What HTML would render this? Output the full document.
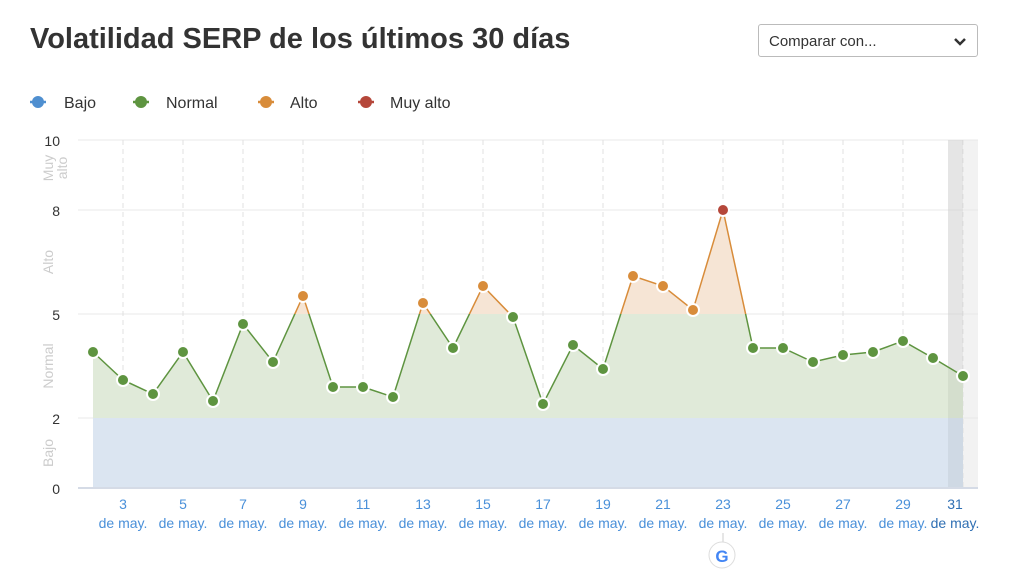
<!DOCTYPE html>
<html><head><meta charset="utf-8"><style>
body{margin:0;width:1010px;height:576px;background:#fff;font-family:"Liberation Sans",sans-serif;overflow:hidden;position:relative}
h1{position:absolute;left:30px;top:23px;margin:0;font-size:29px;font-weight:bold;color:#333}
.sel{position:absolute;left:758px;top:24px;width:220px;height:33px;border:1px solid #bbb;border-radius:3px;box-sizing:border-box;font-size:15px;color:#333;padding:8px 10px}
</style></head><body>
<h1>Volatilidad SERP de los últimos 30 días</h1>
<div class="sel">Comparar con...<svg style="position:absolute;right:10px;top:12px" width="14" height="10"><path d="M2 2 L7 7 L12 2" stroke="#333" stroke-width="2.5" fill="none"/></svg></div>
<svg width="1010" height="576" style="position:absolute;left:0;top:0" font-family="Liberation Sans, sans-serif">
<defs>
<clipPath id="lo"><rect x="0" y="314" width="1010" height="300"/></clipPath>
<clipPath id="hi"><rect x="0" y="0" width="1010" height="314"/></clipPath>
</defs>
<g font-size="16" fill="#333">
<line x1="30" y1="102" x2="46" y2="102" stroke="#4f8fd0" stroke-width="2.5"/><circle cx="38" cy="102" r="6" fill="#4f8fd0"/><text x="64" y="108">Bajo</text>
<line x1="133" y1="102" x2="149" y2="102" stroke="#5e9440" stroke-width="2.5"/><circle cx="141" cy="102" r="6" fill="#5e9440"/><text x="166" y="108">Normal</text>
<line x1="258" y1="102" x2="274" y2="102" stroke="#d88c3a" stroke-width="2.5"/><circle cx="266" cy="102" r="6" fill="#d88c3a"/><text x="290" y="108">Alto</text>
<line x1="358" y1="102" x2="374" y2="102" stroke="#b5473a" stroke-width="2.5"/><circle cx="366" cy="102" r="6" fill="#b5473a"/><text x="390" y="108">Muy alto</text>
</g>
<rect x="948" y="140" width="30" height="348" fill="#f2f2f2"/>
<g stroke="#e8e8e8" stroke-width="1">
<line x1="78" y1="140" x2="978" y2="140"/><line x1="78" y1="210" x2="978" y2="210"/><line x1="78" y1="314" x2="978" y2="314"/><line x1="78" y1="418" x2="978" y2="418"/>
</g>
<g stroke="#e0e0e0" stroke-dasharray="5,4">
<line x1="123" y1="140" x2="123" y2="488"/><line x1="183" y1="140" x2="183" y2="488"/><line x1="243" y1="140" x2="243" y2="488"/><line x1="303" y1="140" x2="303" y2="488"/><line x1="363" y1="140" x2="363" y2="488"/><line x1="423" y1="140" x2="423" y2="488"/><line x1="483" y1="140" x2="483" y2="488"/><line x1="543" y1="140" x2="543" y2="488"/><line x1="603" y1="140" x2="603" y2="488"/><line x1="663" y1="140" x2="663" y2="488"/><line x1="723" y1="140" x2="723" y2="488"/><line x1="783" y1="140" x2="783" y2="488"/><line x1="843" y1="140" x2="843" y2="488"/><line x1="903" y1="140" x2="903" y2="488"/><line x1="963" y1="140" x2="963" y2="488"/>
</g>
<rect x="93" y="418" width="870" height="70" fill="#dbe5f1"/>
<polygon clip-path="url(#lo)" fill="#e0ead9" points="93,418 93,352 123,380 153,394 183,352 213,401 243,324 273,362 303,296 333,387 363,387 393,397 423,303 453,348 483,286 513,317 543,404 573,345 603,369 633,276 663,286 693,310 723,210 753,348 783,348 813,362 843,355 873,352 903,341 933,358 963,376 963,418"/>
<polygon clip-path="url(#hi)" fill="#f6e5d5" points="93,418 93,352 123,380 153,394 183,352 213,401 243,324 273,362 303,296 333,387 363,387 393,397 423,303 453,348 483,286 513,317 543,404 573,345 603,369 633,276 663,286 693,310 723,210 753,348 783,348 813,362 843,355 873,352 903,341 933,358 963,376 963,418"/>
<rect x="948" y="140" width="15" height="348" fill="#000" opacity="0.05"/>
<line x1="78" y1="488" x2="978" y2="488" stroke="#d5dbe6" stroke-width="2"/>
<polyline clip-path="url(#lo)" fill="none" stroke="#5e9440" stroke-width="1.5" points="93,352 123,380 153,394 183,352 213,401 243,324 273,362 303,296 333,387 363,387 393,397 423,303 453,348 483,286 513,317 543,404 573,345 603,369 633,276 663,286 693,310 723,210 753,348 783,348 813,362 843,355 873,352 903,341 933,358 963,376"/>
<polyline clip-path="url(#hi)" fill="none" stroke="#d88c3a" stroke-width="1.5" points="93,352 123,380 153,394 183,352 213,401 243,324 273,362 303,296 333,387 363,387 393,397 423,303 453,348 483,286 513,317 543,404 573,345 603,369 633,276 663,286 693,310 723,210 753,348 783,348 813,362 843,355 873,352 903,341 933,358 963,376"/>
<g stroke="#fff" stroke-width="2" fill="#5e9440">
<circle cx="93" cy="352" r="6"/><circle cx="123" cy="380" r="6"/><circle cx="153" cy="394" r="6"/><circle cx="183" cy="352" r="6"/><circle cx="213" cy="401" r="6"/><circle cx="243" cy="324" r="6"/><circle cx="273" cy="362" r="6"/><circle cx="333" cy="387" r="6"/><circle cx="363" cy="387" r="6"/><circle cx="393" cy="397" r="6"/><circle cx="453" cy="348" r="6"/><circle cx="513" cy="317" r="6"/><circle cx="543" cy="404" r="6"/><circle cx="573" cy="345" r="6"/><circle cx="603" cy="369" r="6"/><circle cx="753" cy="348" r="6"/><circle cx="783" cy="348" r="6"/><circle cx="813" cy="362" r="6"/><circle cx="843" cy="355" r="6"/><circle cx="873" cy="352" r="6"/><circle cx="903" cy="341" r="6"/><circle cx="933" cy="358" r="6"/><circle cx="963" cy="376" r="6"/>
<g fill="#d88c3a"><circle cx="303" cy="296" r="6"/><circle cx="423" cy="303" r="6"/><circle cx="483" cy="286" r="6"/><circle cx="633" cy="276" r="6"/><circle cx="663" cy="286" r="6"/><circle cx="693" cy="310" r="6"/></g>
<circle cx="723" cy="210" r="6" fill="#b5473a"/>
</g>
<g font-size="14" fill="#333" text-anchor="end">
<text x="60" y="146">10</text><text x="60" y="216">8</text><text x="60" y="320">5</text><text x="60" y="424">2</text><text x="60" y="494">0</text>
</g>
<g font-size="14" fill="#ccc" text-anchor="middle">
<text transform="translate(53,168) rotate(-90)">Muy</text><text transform="translate(67,168) rotate(-90)">alto</text>
<text transform="translate(53,262) rotate(-90)">Alto</text>
<text transform="translate(53,366) rotate(-90)">Normal</text>
<text transform="translate(53,453) rotate(-90)">Bajo</text>
</g>
<g font-size="14" fill="#4a90d9" text-anchor="middle">
<text x="123" y="509">3</text><text x="123" y="528">de may.</text>
<text x="183" y="509">5</text><text x="183" y="528">de may.</text>
<text x="243" y="509">7</text><text x="243" y="528">de may.</text>
<text x="303" y="509">9</text><text x="303" y="528">de may.</text>
<text x="363" y="509">11</text><text x="363" y="528">de may.</text>
<text x="423" y="509">13</text><text x="423" y="528">de may.</text>
<text x="483" y="509">15</text><text x="483" y="528">de may.</text>
<text x="543" y="509">17</text><text x="543" y="528">de may.</text>
<text x="603" y="509">19</text><text x="603" y="528">de may.</text>
<text x="663" y="509">21</text><text x="663" y="528">de may.</text>
<text x="723" y="509">23</text><text x="723" y="528">de may.</text>
<text x="783" y="509">25</text><text x="783" y="528">de may.</text>
<text x="843" y="509">27</text><text x="843" y="528">de may.</text>
<text x="903" y="509">29</text><text x="903" y="528">de may.</text>
<text x="955" y="509" fill="#2f6fb3">31</text><text x="955" y="528" fill="#2f6fb3">de may.</text>
</g>
<line x1="723" y1="533" x2="723" y2="542" stroke="#ccc"/>
<circle cx="722" cy="555" r="13" fill="#fff" stroke="#ddd"/>
<text x="722" y="562" font-size="17" font-weight="bold" fill="#4285f4" text-anchor="middle">G</text>
</svg>
</body></html>
